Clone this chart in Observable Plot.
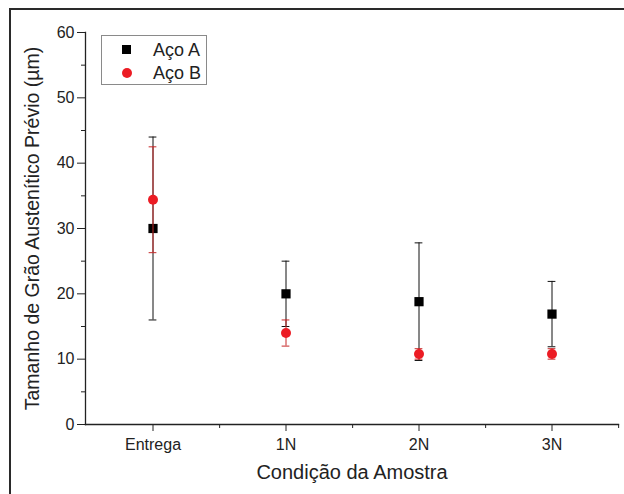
<!DOCTYPE html>
<html><head><meta charset="utf-8">
<script src="https://cdn.jsdelivr.net/npm/d3@7"></script>
<script src="https://cdn.jsdelivr.net/npm/@observablehq/plot@0.6"></script>
<style>
html,body{margin:0;padding:0;background:#fff;font-family:"Liberation Sans",Arial,sans-serif;overflow:hidden;width:624px;height:494px;}
#wrap{position:relative;width:624px;height:494px;overflow:hidden;background:#fff;}
#border{position:absolute;left:9px;top:8px;width:640px;height:520px;border-top:2px solid #2a2a2a;border-left:2px solid #2a2a2a;}
#chart{position:absolute;left:0;top:0;}
#legend{position:absolute;left:101px;top:35px;width:106px;height:50px;box-sizing:border-box;border:1px solid #8a8a8a;background:#fff;}
#edge{position:absolute;left:620px;top:12px;width:10px;height:490px;background:#fff;z-index:10;}
.item{position:absolute;left:0;height:20px;width:104px;}
.sym{position:absolute;left:20px;top:5px;width:9px;height:9px;}
.lbl{position:absolute;left:51px;top:0;font-size:18px;line-height:20px;color:#222;}
</style></head><body>
<div id="wrap"><div id="border"></div><div id="chart"></div>
<div id="legend"></div><div id="edge"></div>
</div>
<script>
const categories = ["Entrega", "1N", "2N", "3N"];
const seriesNames = ["Aço A", "Aço B"];
const acoA = [30, 20, 18.8, 16.9];
const acoAErr = [14, 5, 9, 5];
const acoB = [34.4, 14, 10.8, 10.8];
const acoBErr = [8.1, 2, 0.8, 0.8];
const yTicks = [0, 10, 20, 30, 40, 50, 60];
const yMinorTicks = [5, 15, 25, 35, 45, 55];
const xTitle = "Condição da Amostra";
const yTitle = "Tamanho de Grão Austenítico Prévio (µm)";

const rowsA = categories.map((c, i) => ({cat: c, v: acoA[i], lo: acoA[i] - acoAErr[i], hi: acoA[i] + acoAErr[i]}));
const rowsB = categories.map((c, i) => ({cat: c, v: acoB[i], lo: acoB[i] - acoBErr[i], hi: acoB[i] + acoBErr[i]}));

const W = 624, H = 494, ml = 85, mr = 6, mt = 32, mb = 70;
const bw = (W - ml - mr) / categories.length;
const capInset = bw / 2 - 4;
const black = "#111", redBar = "#c62828", redDot = "#ec1c24";

function errMarks(rows, color) {
  return [
    Plot.ruleX(rows, {x: "cat", y1: "lo", y2: "hi", stroke: color, strokeWidth: 1}),
    Plot.tickY(rows, {x: "cat", y: "lo", stroke: color, strokeWidth: 1, insetLeft: capInset, insetRight: capInset}),
    Plot.tickY(rows, {x: "cat", y: "hi", stroke: color, strokeWidth: 1, insetLeft: capInset, insetRight: capInset})
  ];
}

const chart = Plot.plot({
  width: W, height: H,
  marginLeft: ml, marginRight: mr, marginTop: mt, marginBottom: mb,
  style: {fontFamily: "'Liberation Sans', Arial, sans-serif", fontSize: "16px", color: "#222", background: "transparent", overflow: "visible"},
  x: {domain: categories, type: "band", padding: 0},
  y: {domain: [0, 60]},
  marks: [
    Plot.axisY({ticks: yTicks, tickSize: 8, tickPadding: 3, label: null, fontSize: 16, stroke: "#222"}),
    Plot.axisY({ticks: yMinorTicks, tickSize: 4, tickFormat: () => "", label: null, stroke: "#222"}),
    Plot.axisX({ticks: categories, tickSize: 7, tickPadding: 7, label: null, fontSize: 16, stroke: "#222"}),
    Plot.axisX({ticks: categories, tickSize: 4, tickFormat: () => "", label: null, dx: bw / 2, stroke: "#222"}),
    Plot.frame({anchor: "left", stroke: "#222", strokeWidth: 1.3}),
    Plot.frame({anchor: "bottom", stroke: "#222", strokeWidth: 1.3}),
    Plot.text([yTitle], {frameAnchor: "left", dx: -53, rotate: -90, textAnchor: "middle", lineAnchor: "middle", fontSize: 19.5, fill: "#222"}),
    Plot.text([xTitle], {frameAnchor: "bottom", dy: 48, textAnchor: "middle", lineAnchor: "middle", fontSize: 20, fill: "#222"}),
    ...errMarks(rowsA, black),
    Plot.dot(rowsA, {x: "cat", y: "v", symbol: "square", r: 5.2, fill: "#000", stroke: "none"}),
    ...errMarks(rowsB, redBar),
    Plot.dot(rowsB, {x: "cat", y: "v", symbol: "circle", r: 5, fill: redDot, stroke: "none"})
  ]
});
document.getElementById("chart").appendChild(chart);

const legend = document.getElementById("legend");
seriesNames.forEach((name, i) => {
  const it = document.createElement("div");
  it.className = "item";
  it.style.top = (4 + i * 23) + "px";
  const sym = document.createElement("div");
  sym.className = "sym";
  if (i === 0) { sym.style.background = "#000"; }
  else { sym.style.background = redDot; sym.style.borderRadius = "50%"; sym.style.width = "10px"; sym.style.height = "10px"; }
  const lbl = document.createElement("div");
  lbl.className = "lbl";
  lbl.textContent = name;
  it.appendChild(sym); it.appendChild(lbl);
  legend.appendChild(it);
});
</script>
</body></html>
